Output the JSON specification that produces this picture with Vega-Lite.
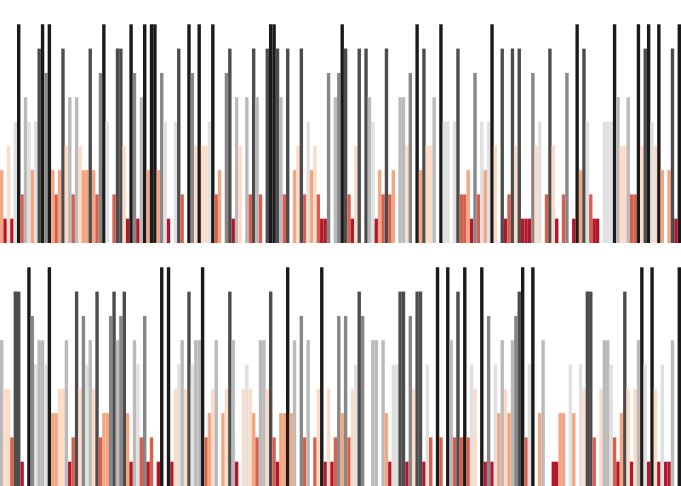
{"$schema":"https://vega.github.io/schema/vega-lite/v6.json","padding":0,"spacing":0,"config":{"view":{"stroke":null}},
"data":{"values":[
{"r":1,"i":0,"v":3},{"r":1,"i":1,"v":1},{"r":1,"i":2,"v":4},{"r":1,"i":3,"v":1},{"r":1,"i":4,"v":5},{"r":1,"i":5,"v":9},{"r":1,"i":6,"v":2},{"r":1,"i":7,"v":6},{"r":1,"i":8,"v":5},{"r":1,"i":9,"v":3},
{"r":1,"i":10,"v":5},{"r":1,"i":11,"v":8},{"r":1,"i":12,"v":9},{"r":1,"i":13,"v":7},{"r":1,"i":14,"v":9},{"r":1,"i":15,"v":3},{"r":1,"i":16,"v":2},{"r":1,"i":17,"v":3},{"r":1,"i":18,"v":8},{"r":1,"i":19,"v":4},
{"r":1,"i":20,"v":6},{"r":1,"i":21,"v":2},{"r":1,"i":22,"v":6},{"r":1,"i":23,"v":4},{"r":1,"i":24,"v":3},{"r":1,"i":25,"v":3},{"r":1,"i":26,"v":8},{"r":1,"i":27,"v":3},{"r":1,"i":28,"v":2},{"r":1,"i":29,"v":7},
{"r":1,"i":30,"v":9},{"r":1,"i":31,"v":5},{"r":1,"i":32,"v":0},{"r":1,"i":33,"v":2},{"r":1,"i":34,"v":8},{"r":1,"i":35,"v":8},{"r":1,"i":36,"v":4},{"r":1,"i":37,"v":1},{"r":1,"i":38,"v":9},{"r":1,"i":39,"v":7},
{"r":1,"i":40,"v":1},{"r":1,"i":41,"v":6},{"r":1,"i":42,"v":9},{"r":1,"i":43,"v":3},{"r":1,"i":44,"v":9},{"r":1,"i":45,"v":9},{"r":1,"i":46,"v":3},{"r":1,"i":47,"v":7},{"r":1,"i":48,"v":5},{"r":1,"i":49,"v":1},
{"r":1,"i":50,"v":0},{"r":1,"i":51,"v":5},{"r":1,"i":52,"v":8},{"r":1,"i":53,"v":2},{"r":1,"i":54,"v":0},{"r":1,"i":55,"v":9},{"r":1,"i":56,"v":7},{"r":1,"i":57,"v":4},{"r":1,"i":58,"v":9},{"r":1,"i":59,"v":4},
{"r":1,"i":60,"v":4},{"r":1,"i":61,"v":5},{"r":1,"i":62,"v":9},{"r":1,"i":63,"v":2},{"r":1,"i":64,"v":3},{"r":1,"i":65,"v":0},{"r":1,"i":66,"v":7},{"r":1,"i":67,"v":8},{"r":1,"i":68,"v":1},{"r":1,"i":69,"v":6},
{"r":1,"i":70,"v":4},{"r":1,"i":71,"v":0},{"r":1,"i":72,"v":6},{"r":1,"i":73,"v":2},{"r":1,"i":74,"v":8},{"r":1,"i":75,"v":6},{"r":1,"i":76,"v":2},{"r":1,"i":77,"v":0},{"r":1,"i":78,"v":8},{"r":1,"i":79,"v":9},
{"r":1,"i":80,"v":9},{"r":1,"i":81,"v":8},{"r":1,"i":82,"v":6},{"r":1,"i":83,"v":2},{"r":1,"i":84,"v":8},{"r":1,"i":85,"v":0},{"r":1,"i":86,"v":3},{"r":1,"i":87,"v":4},{"r":1,"i":88,"v":8},{"r":1,"i":89,"v":2},
{"r":1,"i":90,"v":5},{"r":1,"i":91,"v":3},{"r":1,"i":92,"v":4},{"r":1,"i":93,"v":2},{"r":1,"i":94,"v":1},{"r":1,"i":95,"v":1},{"r":1,"i":96,"v":7},{"r":1,"i":97,"v":0},{"r":1,"i":98,"v":6},{"r":1,"i":99,"v":7},
{"r":1,"i":100,"v":9},{"r":1,"i":101,"v":8},{"r":1,"i":102,"v":2},{"r":1,"i":103,"v":1},{"r":1,"i":104,"v":4},{"r":1,"i":105,"v":8},{"r":1,"i":106,"v":0},{"r":1,"i":107,"v":8},{"r":1,"i":108,"v":6},{"r":1,"i":109,"v":5},
{"r":1,"i":110,"v":1},{"r":1,"i":111,"v":3},{"r":1,"i":112,"v":2},{"r":1,"i":113,"v":8},{"r":1,"i":114,"v":2},{"r":1,"i":115,"v":3},{"r":1,"i":116,"v":0},{"r":1,"i":117,"v":6},{"r":1,"i":118,"v":6},{"r":1,"i":119,"v":4},
{"r":1,"i":120,"v":7},{"r":1,"i":121,"v":0},{"r":1,"i":122,"v":9},{"r":1,"i":123,"v":3},{"r":1,"i":124,"v":8},{"r":1,"i":125,"v":4},{"r":1,"i":126,"v":4},{"r":1,"i":127,"v":6},{"r":1,"i":128,"v":0},{"r":1,"i":129,"v":9},
{"r":1,"i":130,"v":5},{"r":1,"i":131,"v":5},{"r":1,"i":132,"v":0},{"r":1,"i":133,"v":5},{"r":1,"i":134,"v":8},{"r":1,"i":135,"v":2},{"r":1,"i":136,"v":2},{"r":1,"i":137,"v":3},{"r":1,"i":138,"v":1},{"r":1,"i":139,"v":7},
{"r":1,"i":140,"v":2},{"r":1,"i":141,"v":5},{"r":1,"i":142,"v":3},{"r":1,"i":143,"v":5},{"r":1,"i":144,"v":9},{"r":1,"i":145,"v":4},{"r":1,"i":146,"v":0},{"r":1,"i":147,"v":8},{"r":1,"i":148,"v":1},{"r":1,"i":149,"v":2},
{"r":1,"i":150,"v":8},{"r":1,"i":151,"v":4},{"r":1,"i":152,"v":8},{"r":1,"i":153,"v":1},{"r":1,"i":154,"v":1},{"r":1,"i":155,"v":1},{"r":1,"i":156,"v":7},{"r":1,"i":157,"v":4},{"r":1,"i":158,"v":5},{"r":1,"i":159,"v":0},
{"r":1,"i":160,"v":2},{"r":1,"i":161,"v":8},{"r":1,"i":162,"v":4},{"r":1,"i":163,"v":1},{"r":1,"i":164,"v":0},{"r":1,"i":165,"v":2},{"r":1,"i":166,"v":7},{"r":1,"i":167,"v":0},{"r":1,"i":168,"v":1},{"r":1,"i":169,"v":9},
{"r":1,"i":170,"v":3},{"r":1,"i":171,"v":8},{"r":1,"i":172,"v":5},{"r":1,"i":173,"v":2},{"r":1,"i":174,"v":1},{"r":1,"i":175,"v":1},{"r":1,"i":176,"v":0},{"r":1,"i":177,"v":5},{"r":1,"i":178,"v":5},{"r":1,"i":179,"v":5},
{"r":1,"i":180,"v":9},{"r":1,"i":181,"v":6},{"r":1,"i":182,"v":4},{"r":1,"i":183,"v":4},{"r":1,"i":184,"v":6},{"r":1,"i":185,"v":2},{"r":1,"i":186,"v":2},{"r":1,"i":187,"v":9},{"r":1,"i":188,"v":4},{"r":1,"i":189,"v":8},
{"r":1,"i":190,"v":9},{"r":1,"i":191,"v":5},{"r":1,"i":192,"v":4},{"r":1,"i":193,"v":9},{"r":1,"i":194,"v":3},{"r":1,"i":195,"v":0},{"r":1,"i":196,"v":3},{"r":1,"i":197,"v":8},{"r":1,"i":198,"v":1},{"r":1,"i":199,"v":9},
{"r":2,"i":0,"v":6},{"r":2,"i":1,"v":4},{"r":2,"i":2,"v":4},{"r":2,"i":3,"v":2},{"r":2,"i":4,"v":8},{"r":2,"i":5,"v":8},{"r":2,"i":6,"v":1},{"r":2,"i":7,"v":0},{"r":2,"i":8,"v":9},{"r":2,"i":9,"v":7},
{"r":2,"i":10,"v":5},{"r":2,"i":11,"v":6},{"r":2,"i":12,"v":6},{"r":2,"i":13,"v":5},{"r":2,"i":14,"v":9},{"r":2,"i":15,"v":3},{"r":2,"i":16,"v":3},{"r":2,"i":17,"v":4},{"r":2,"i":18,"v":4},{"r":2,"i":19,"v":6},
{"r":2,"i":20,"v":1},{"r":2,"i":21,"v":2},{"r":2,"i":22,"v":8},{"r":2,"i":23,"v":4},{"r":2,"i":24,"v":7},{"r":2,"i":25,"v":5},{"r":2,"i":26,"v":6},{"r":2,"i":27,"v":4},{"r":2,"i":28,"v":8},{"r":2,"i":29,"v":2},
{"r":2,"i":30,"v":3},{"r":2,"i":31,"v":3},{"r":2,"i":32,"v":7},{"r":2,"i":33,"v":8},{"r":2,"i":34,"v":6},{"r":2,"i":35,"v":7},{"r":2,"i":36,"v":8},{"r":2,"i":37,"v":3},{"r":2,"i":38,"v":1},{"r":2,"i":39,"v":6},
{"r":2,"i":40,"v":5},{"r":2,"i":41,"v":2},{"r":2,"i":42,"v":7},{"r":2,"i":43,"v":1},{"r":2,"i":44,"v":2},{"r":2,"i":45,"v":0},{"r":2,"i":46,"v":1},{"r":2,"i":47,"v":9},{"r":2,"i":48,"v":0},{"r":2,"i":49,"v":9},
{"r":2,"i":50,"v":1},{"r":2,"i":51,"v":4},{"r":2,"i":52,"v":5},{"r":2,"i":53,"v":6},{"r":2,"i":54,"v":4},{"r":2,"i":55,"v":8},{"r":2,"i":56,"v":5},{"r":2,"i":57,"v":6},{"r":2,"i":58,"v":6},{"r":2,"i":59,"v":9},
{"r":2,"i":60,"v":2},{"r":2,"i":61,"v":3},{"r":2,"i":62,"v":4},{"r":2,"i":63,"v":6},{"r":2,"i":64,"v":0},{"r":2,"i":65,"v":3},{"r":2,"i":66,"v":4},{"r":2,"i":67,"v":8},{"r":2,"i":68,"v":6},{"r":2,"i":69,"v":1},
{"r":2,"i":70,"v":0},{"r":2,"i":71,"v":4},{"r":2,"i":72,"v":5},{"r":2,"i":73,"v":4},{"r":2,"i":74,"v":3},{"r":2,"i":75,"v":2},{"r":2,"i":76,"v":6},{"r":2,"i":77,"v":6},{"r":2,"i":78,"v":4},{"r":2,"i":79,"v":8},
{"r":2,"i":80,"v":2},{"r":2,"i":81,"v":1},{"r":2,"i":82,"v":3},{"r":2,"i":83,"v":3},{"r":2,"i":84,"v":9},{"r":2,"i":85,"v":3},{"r":2,"i":86,"v":6},{"r":2,"i":87,"v":0},{"r":2,"i":88,"v":7},{"r":2,"i":89,"v":2},
{"r":2,"i":90,"v":6},{"r":2,"i":91,"v":0},{"r":2,"i":92,"v":2},{"r":2,"i":93,"v":4},{"r":2,"i":94,"v":9},{"r":2,"i":95,"v":1},{"r":2,"i":96,"v":4},{"r":2,"i":97,"v":1},{"r":2,"i":98,"v":2},{"r":2,"i":99,"v":7},
{"r":2,"i":100,"v":3},{"r":2,"i":101,"v":7},{"r":2,"i":102,"v":2},{"r":2,"i":103,"v":4},{"r":2,"i":104,"v":5},{"r":2,"i":105,"v":8},{"r":2,"i":106,"v":7},{"r":2,"i":107,"v":0},{"r":2,"i":108,"v":0},{"r":2,"i":109,"v":6},
{"r":2,"i":110,"v":6},{"r":2,"i":111,"v":0},{"r":2,"i":112,"v":6},{"r":2,"i":113,"v":3},{"r":2,"i":114,"v":1},{"r":2,"i":115,"v":5},{"r":2,"i":116,"v":5},{"r":2,"i":117,"v":8},{"r":2,"i":118,"v":8},{"r":2,"i":119,"v":1},
{"r":2,"i":120,"v":7},{"r":2,"i":121,"v":4},{"r":2,"i":122,"v":8},{"r":2,"i":123,"v":8},{"r":2,"i":124,"v":1},{"r":2,"i":125,"v":5},{"r":2,"i":126,"v":2},{"r":2,"i":127,"v":0},{"r":2,"i":128,"v":9},{"r":2,"i":129,"v":2},
{"r":2,"i":130,"v":0},{"r":2,"i":131,"v":9},{"r":2,"i":132,"v":6},{"r":2,"i":133,"v":2},{"r":2,"i":134,"v":8},{"r":2,"i":135,"v":2},{"r":2,"i":136,"v":9},{"r":2,"i":137,"v":2},{"r":2,"i":138,"v":5},{"r":2,"i":139,"v":4},
{"r":2,"i":140,"v":0},{"r":2,"i":141,"v":9},{"r":2,"i":142,"v":1},{"r":2,"i":143,"v":7},{"r":2,"i":144,"v":1},{"r":2,"i":145,"v":5},{"r":2,"i":146,"v":3},{"r":2,"i":147,"v":6},{"r":2,"i":148,"v":4},{"r":2,"i":149,"v":3},
{"r":2,"i":150,"v":6},{"r":2,"i":151,"v":7},{"r":2,"i":152,"v":8},{"r":2,"i":153,"v":9},{"r":2,"i":154,"v":2},{"r":2,"i":155,"v":5},{"r":2,"i":156,"v":9},{"r":2,"i":157,"v":0},{"r":2,"i":158,"v":3},{"r":2,"i":159,"v":6},
{"r":2,"i":160,"v":0},{"r":2,"i":161,"v":0},{"r":2,"i":162,"v":1},{"r":2,"i":163,"v":1},{"r":2,"i":164,"v":3},{"r":2,"i":165,"v":3},{"r":2,"i":166,"v":0},{"r":2,"i":167,"v":5},{"r":2,"i":168,"v":3},{"r":2,"i":169,"v":0},
{"r":2,"i":170,"v":5},{"r":2,"i":171,"v":4},{"r":2,"i":172,"v":8},{"r":2,"i":173,"v":8},{"r":2,"i":174,"v":2},{"r":2,"i":175,"v":0},{"r":2,"i":176,"v":4},{"r":2,"i":177,"v":6},{"r":2,"i":178,"v":6},{"r":2,"i":179,"v":5},
{"r":2,"i":180,"v":2},{"r":2,"i":181,"v":1},{"r":2,"i":182,"v":3},{"r":2,"i":183,"v":8},{"r":2,"i":184,"v":4},{"r":2,"i":185,"v":1},{"r":2,"i":186,"v":4},{"r":2,"i":187,"v":6},{"r":2,"i":188,"v":9},{"r":2,"i":189,"v":5},
{"r":2,"i":190,"v":1},{"r":2,"i":191,"v":9},{"r":2,"i":192,"v":4},{"r":2,"i":193,"v":1},{"r":2,"i":194,"v":5},{"r":2,"i":195,"v":1},{"r":2,"i":196,"v":1},{"r":2,"i":197,"v":6},{"r":2,"i":198,"v":0},{"r":2,"i":199,"v":9}
]},
"vconcat":[
{"transform":[{"filter":"datum.r == 1"}],"width":681,"height":243,"mark":{"type":"bar"},
"encoding":{"x":{"field":"i","type":"ordinal","scale":{"paddingInner":0,"paddingOuter":0},"axis":null},
"y":{"field":"v","type":"quantitative","scale":{"domain":[0,10]},"axis":null},
"color":{"field":"v","type":"ordinal","scale":{"domain":[0,1,2,3,4,5,6,7,8,9],"range":["#67001f","#b2182b","#d6604d","#f4a582","#fddbc7","#e0e0e0","#bababa","#878787","#4d4d4d","#1a1a1a"]},"legend":null}}},
{"transform":[{"filter":"datum.r == 2"}],"width":681,"height":243,"mark":{"type":"bar"},
"encoding":{"x":{"field":"i","type":"ordinal","scale":{"paddingInner":0,"paddingOuter":0},"axis":null},
"y":{"field":"v","type":"quantitative","scale":{"domain":[0,10]},"axis":null},
"color":{"field":"v","type":"ordinal","scale":{"domain":[0,1,2,3,4,5,6,7,8,9],"range":["#67001f","#b2182b","#d6604d","#f4a582","#fddbc7","#e0e0e0","#bababa","#878787","#4d4d4d","#1a1a1a"]},"legend":null}}}
]}
